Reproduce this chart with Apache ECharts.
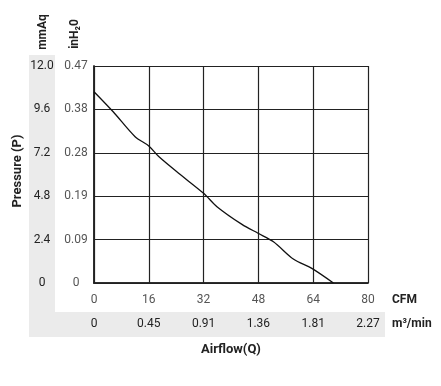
<!DOCTYPE html>
<html>
<head>
<meta charset="utf-8">
<script src="https://cdn.jsdelivr.net/npm/echarts@6/dist/echarts.min.js"></script>
<style>
html,body{margin:0;padding:0;background:#fff;}
#chart{width:441px;height:386px;}
</style>
</head>
<body>
<div id="chart"></div>
<script>
var cfmTicks = ['0','16','32','48','64','80'];
var m3Ticks = ['0','0.45','0.91','1.36','1.81','2.27'];
var mmAqTicks = ['0','2.4','4.8','7.2','9.6','12.0'];
var inH2OTicks = ['0','0.09','0.19','0.28','0.38','0.47'];
var airflowCFM = [0, 5.6, 12, 16, 18.9, 24.7, 32, 35.9, 43.2, 47.9, 52.4, 58.3, 63.6, 69.9];
var pressureMmAq = [10.58, 9.47, 8.09, 7.58, 6.99, 6.07, 4.96, 4.22, 3.24, 2.75, 2.28, 1.31, 0.81, 0];

var FONT = '"Liberation Sans Narrow", "Roboto", "Liberation Sans", sans-serif';
var chart = echarts.init(document.getElementById('chart'), null, {renderer:'canvas'});
var L = 94, T = 66, W = 274, H = 217;
var data = airflowCFM.map(function(x,i){return [x, pressureMmAq[i]];});
function idxOf(v, step){return Math.round(v/step);}
chart.setOption({
  animation:false,
  backgroundColor:'#fff',
  graphic:[
    {type:'rect', shape:{x:29,y:55,width:26,height:257}, style:{fill:'#ebebeb'}, z:-10},
    {type:'rect', shape:{x:29,y:312,width:356,height:25}, style:{fill:'#ebebeb'}, z:-10},
    {type:'text', x:43, y:32, rotation:Math.PI/2, style:{text:'mmAq', font:'bold 12px '+FONT, fill:'#222', align:'center', verticalAlign:'middle'}},
    {type:'text', x:75, y:34, rotation:Math.PI/2, style:{text:'inH₂0', font:'bold 12px '+FONT, fill:'#222', align:'center', verticalAlign:'middle'}},
    {type:'text', x:18, y:171, rotation:Math.PI/2, style:{text:'Pressure (P)', font:'bold 13px '+FONT, fill:'#222', align:'center', verticalAlign:'middle'}},
    {type:'text', x:392, y:300, style:{text:'CFM', font:'bold 12px '+FONT, fill:'#222', align:'left', verticalAlign:'middle'}},
    {type:'text', x:392, y:324, style:{text:'m³/min', font:'bold 12px '+FONT, fill:'#222', align:'left', verticalAlign:'middle'}},
    {type:'text', x:231, y:350, style:{text:'Airflow(Q)', font:'bold 13px '+FONT, fill:'#222', align:'center', verticalAlign:'middle'}}
  ],
  grid:{left:L, top:T, width:W, height:H, show:false},
  xAxis:[
    {type:'value', min:0, max:80, interval:16, position:'bottom',
     axisLine:{show:true, onZero:false, lineStyle:{color:'#222', width:1.5}},
     axisTick:{show:false},
     splitLine:{show:true, lineStyle:{color:'#222', width:1.2}},
     axisLabel:{margin:11, color:'#555', fontSize:12, fontFamily:FONT,
       formatter:function(v){return cfmTicks[idxOf(v,16)];}}},
    {type:'value', min:0, max:80, interval:16, position:'bottom', offset:0,
     axisLine:{show:false}, axisTick:{show:false}, splitLine:{show:false},
     axisLabel:{margin:35, color:'#222', fontSize:12, fontFamily:FONT,
       formatter:function(v){return m3Ticks[idxOf(v,16)];}}},
    {type:'value', min:0, max:80, position:'top',
     axisLine:{show:true, lineStyle:{color:'#222', width:1.5}},
     axisTick:{show:false}, axisLabel:{show:false}, splitLine:{show:false}}
  ],
  yAxis:[
    {type:'value', min:0, max:12, interval:2.4, position:'left',
     axisLine:{show:true, onZero:false, lineStyle:{color:'#222', width:1.5}},
     axisTick:{show:false},
     splitLine:{show:true, lineStyle:{color:'#222', width:1.2}},
     axisLabel:{margin:52, align:'center', color:'#222', fontSize:12, fontFamily:FONT,
       formatter:function(v){return mmAqTicks[idxOf(v,2.4)];}}},
    {type:'value', min:0, max:12, interval:2.4, position:'left', offset:0,
     axisLine:{show:false}, axisTick:{show:false}, splitLine:{show:false},
     axisLabel:{margin:18, align:'center', color:'#555', fontSize:12, fontFamily:FONT,
       formatter:function(v){return inH2OTicks[idxOf(v,2.4)];}}},
    {type:'value', min:0, max:12, position:'right',
     axisLine:{show:true, lineStyle:{color:'#222', width:1.5}},
     axisTick:{show:false}, axisLabel:{show:false}, splitLine:{show:false}}
  ],
  series:[{
    type:'line', data:data, smooth:0.3, symbol:'none',
    lineStyle:{color:'#111', width:1.3}
  }]
});
</script>
</body>
</html>
